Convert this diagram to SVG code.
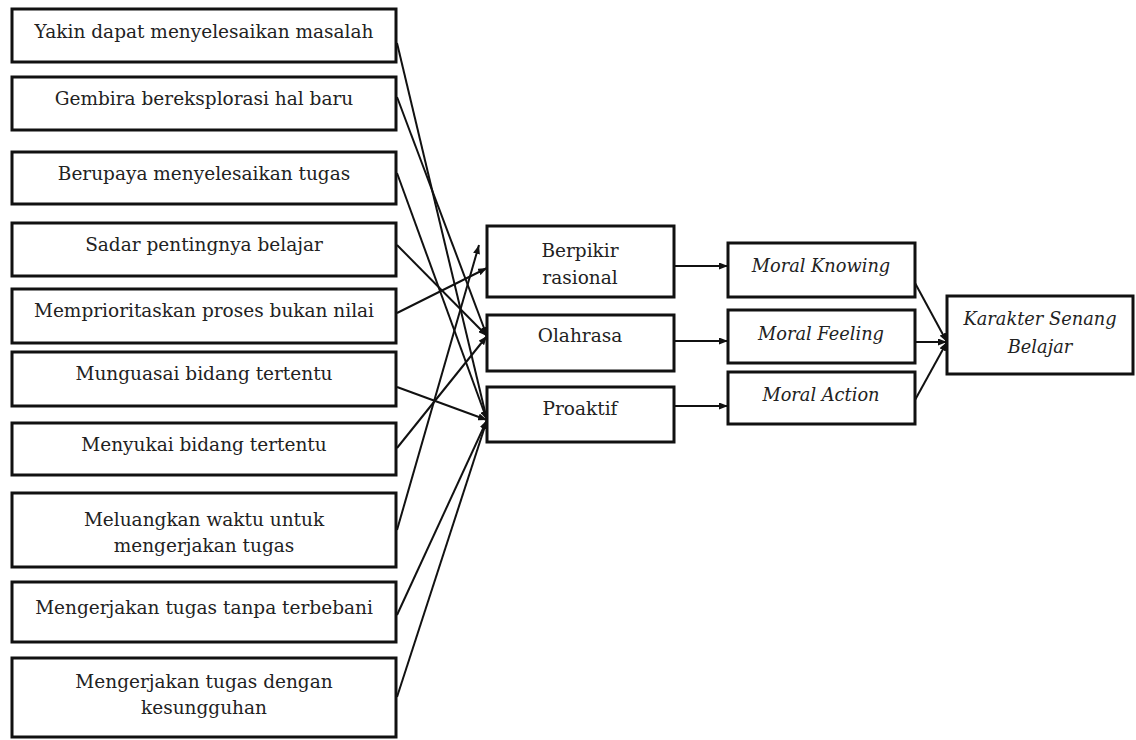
<svg xmlns="http://www.w3.org/2000/svg" width="1136" height="740" viewBox="0 0 1136 740">
<style>
.box{fill:#fff;stroke:#111;stroke-width:3}
.t{font-family:"DejaVu Serif","Liberation Serif",serif;font-size:18.5px;fill:#222;text-anchor:middle}
.i{font-style:italic;font-size:17.8px}
.c{stroke:#111;stroke-width:2;fill:none;marker-end:url(#ah)}
</style>
<defs>
<marker id="ah" markerUnits="userSpaceOnUse" markerWidth="9" markerHeight="7" refX="9" refY="3.5" orient="auto">
<path d="M0,0 L9,3.5 L0,7 z" fill="#111"/>
</marker>
</defs>
<rect width="1136" height="740" fill="#fff"/>
<g id="connectors">
<line class="c" x1="397" y1="43" x2="487" y2="420"/>
<line class="c" x1="397" y1="97" x2="487" y2="336"/>
<line class="c" x1="397" y1="173" x2="487" y2="420"/>
<line class="c" x1="397" y1="245" x2="487" y2="336"/>
<line class="c" x1="397" y1="313" x2="487" y2="268"/>
<line class="c" x1="397" y1="387" x2="487" y2="420"/>
<line class="c" x1="397" y1="448" x2="487" y2="336"/>
<line class="c" x1="397" y1="530" x2="479" y2="245"/>
<line class="c" x1="397" y1="615" x2="487" y2="420"/>
<line class="c" x1="397" y1="697" x2="487" y2="420"/>
<line class="c" x1="675" y1="266" x2="728" y2="266"/>
<line class="c" x1="675" y1="341" x2="728" y2="341"/>
<line class="c" x1="675" y1="406" x2="728" y2="406"/>
<line class="c" x1="915" y1="283" x2="947" y2="342"/>
<line class="c" x1="915" y1="342" x2="947" y2="342"/>
<line class="c" x1="915" y1="400" x2="947" y2="342"/>
</g>
<g id="n1"><rect class="box" x="12" y="9" width="384" height="53"/><text class="t" x="204" y="38">Yakin dapat menyelesaikan masalah</text></g>
<g id="n2"><rect class="box" x="12" y="77" width="384" height="53"/><text class="t" x="204" y="105">Gembira bereksplorasi hal baru</text></g>
<g id="n3"><rect class="box" x="12" y="152" width="384" height="52"/><text class="t" x="204" y="180">Berupaya menyelesaikan tugas</text></g>
<g id="n4"><rect class="box" x="12" y="223" width="384" height="53"/><text class="t" x="204" y="251">Sadar pentingnya belajar</text></g>
<g id="n5"><rect class="box" x="12" y="289" width="384" height="54"/><text class="t" x="204" y="317">Memprioritaskan proses bukan nilai</text></g>
<g id="n6"><rect class="box" x="12" y="352" width="384" height="54"/><text class="t" x="204" y="380">Munguasai bidang tertentu</text></g>
<g id="n7"><rect class="box" x="12" y="423" width="384" height="52"/><text class="t" x="204" y="451">Menyukai bidang tertentu</text></g>
<g id="n8"><rect class="box" x="12" y="493" width="384" height="74"/><text class="t" x="204" y="526">Meluangkan waktu untuk</text><text class="t" x="204" y="552">mengerjakan tugas</text></g>
<g id="n9"><rect class="box" x="12" y="582" width="384" height="60"/><text class="t" x="204" y="614">Mengerjakan tugas tanpa terbebani</text></g>
<g id="n10"><rect class="box" x="12" y="658" width="384" height="79"/><text class="t" x="204" y="688">Mengerjakan tugas dengan</text><text class="t" x="204" y="714">kesungguhan</text></g>
<g id="berpikir"><rect class="box" x="487" y="226" width="187" height="71"/><text class="t" x="580" y="257">Berpikir</text><text class="t" x="580" y="284">rasional</text></g>
<g id="olahrasa"><rect class="box" x="487" y="315" width="187" height="56"/><text class="t" x="580" y="342">Olahrasa</text></g>
<g id="proaktif"><rect class="box" x="487" y="387" width="187" height="55"/><text class="t" x="580" y="415">Proaktif</text></g>
<g id="knowing"><rect class="box" x="728" y="243" width="187" height="54"/><text class="t i" x="821" y="272">Moral Knowing</text></g>
<g id="feeling"><rect class="box" x="728" y="310" width="187" height="53"/><text class="t i" x="821" y="340">Moral Feeling</text></g>
<g id="action"><rect class="box" x="728" y="372" width="187" height="52"/><text class="t i" x="821" y="401">Moral Action</text></g>
<g id="karakter"><rect class="box" x="947" y="296" width="186" height="78"/><text class="t i" x="1040" y="325">Karakter Senang</text><text class="t i" x="1040" y="353">Belajar</text></g>
</svg>
